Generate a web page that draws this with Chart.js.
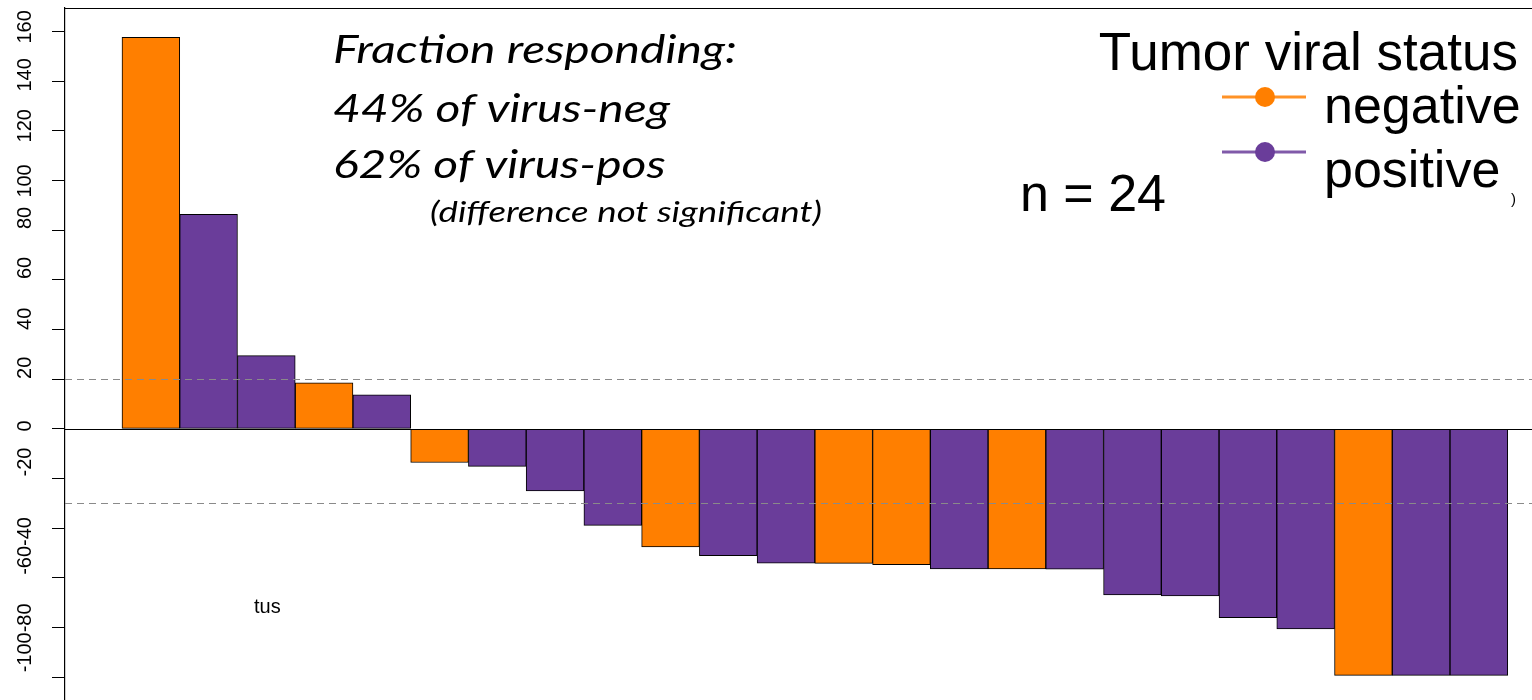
<!DOCTYPE html>
<html>
<head>
<meta charset="utf-8">
<script src="https://cdn.jsdelivr.net/npm/chart.js@4.4.1/dist/chart.umd.min.js"></script>
<style>
  html, body { margin: 0; padding: 0; background: #fff; }
  #wrap { width: 1532px; height: 700px; }
</style>
</head>
<body>
<div id="wrap"><canvas id="waterfall" width="1532" height="700"></canvas></div>
<script>
// patient order along the waterfall
const patients = [1, 2, 3, 4, 5, 6, 7, 8, 9, 10, 11, 12, 13, 14, 15, 16, 17, 18, 19, 20, 21, 22, 23, 24];
// best % change in tumour size
const changes = [157.6, 86.4, 29.5, 18.5, 13.7, -13.5, -15.1, -25, -38.8, -47.5, -51, -54,
  -54.1, -54.6, -56.3, -56.3, -56.4, -66.8, -67.2, -76, -80.5, -99.2, -99.2, -99.2];
const status = ['neg', 'pos', 'pos', 'neg', 'pos', 'neg', 'pos', 'pos', 'pos', 'neg', 'pos', 'pos',
  'neg', 'neg', 'pos', 'neg', 'pos', 'pos', 'pos', 'pos', 'pos', 'neg', 'pos', 'pos'];
const statusColors = { neg: '#FF7F00', pos: '#6A3D9A' };
const legendKeys = ['neg', 'pos'];
const legendLabels = ['negative', 'positive'];
const legendTitle = 'Tumor viral status';

const yTicks = [160, 140, 120, 100, 80, 60, 40, 20, 0, -20, -40, -60, -80, -100];
// label text and the value it sits at (lower ones overlap in the original)
const yLabelText = ['160', '140', '120', '100', '80', '60', '40', '20', '0', '-20', '-60-40', '-100-80'];
const yLabelAt = [161.8, 142.5, 122, 99.8, 84.9, 64.8, 44.3, 24.6, 1.2, -13.3, -47.1, -84.1];

const cutoffs = [20, -30];
const noteLines = ['Fraction responding:', '44% of virus-neg', '62% of virus-pos'];
const noteSub = '(difference not significant)';
const countText = 'n = 24';

// draw text stretched sideways so it spans a given width
function stretchText(ctx, text, x, y, sx) {
  ctx.save();
  ctx.translate(x, y);
  ctx.scale(sx, 1);
  ctx.fillText(text, 0, 0);
  ctx.restore();
}

const decor = {
  id: 'decor',
  afterDatasetsDraw(chart) {
    const ctx = chart.ctx;
    const area = chart.chartArea;
    const y = chart.scales.y;
    ctx.save();

    // reference lines
    ctx.strokeStyle = '#8a8a8a';
    ctx.lineWidth = 1.2;
    ctx.setLineDash([7, 5]);
    cutoffs.forEach(c => {
      const py = Math.round(y.getPixelForValue(c)) + 0.5;
      ctx.beginPath();
      ctx.moveTo(area.left, py);
      ctx.lineTo(area.right, py);
      ctx.stroke();
    });
    ctx.setLineDash([]);

    // zero line and top frame
    ctx.strokeStyle = '#000';
    ctx.lineWidth = 1.2;
    const z = Math.round(y.getPixelForValue(0)) + 0.5;
    ctx.beginPath();
    ctx.moveTo(area.left, z);
    ctx.lineTo(area.right, z);
    ctx.moveTo(area.left, area.top + 0.5);
    ctx.lineTo(area.right, area.top + 0.5);
    ctx.stroke();

    // rotated y labels
    ctx.fillStyle = '#000';
    ctx.font = '20px "Liberation Sans", Arial, sans-serif';
    ctx.textAlign = 'center';
    ctx.textBaseline = 'middle';
    yLabelText.forEach((t, i) => {
      ctx.save();
      ctx.translate(25, y.getPixelForValue(yLabelAt[i]));
      ctx.rotate(-Math.PI / 2);
      ctx.fillText(t, 0, 0);
      ctx.restore();
    });

    // annotation text
    const fam = 'Lato, "Open Sans", sans-serif';
    ctx.textAlign = 'left';
    ctx.textBaseline = 'alphabetic';
    ctx.font = 'italic 39px ' + fam;
    const sx = 404 / ctx.measureText(noteLines[0]).width;
    [63, 122, 178].forEach((by, i) => stretchText(ctx, noteLines[i], 333, by, sx));
    ctx.font = 'italic 29px ' + fam;
    const sx2 = 392 / ctx.measureText(noteSub).width;
    stretchText(ctx, noteSub, 430, 222, sx2);

    // legend
    const arial = '"Liberation Sans", Arial, sans-serif';
    ctx.font = '53px ' + arial;
    ctx.textAlign = 'right';
    ctx.fillText(legendTitle, 1518, 70);
    ctx.textAlign = 'left';
    ctx.font = '52px ' + arial;
    [[97, 123], [152, 187]].forEach(([ly, by], i) => {
      const col = statusColors[legendKeys[i]];
      ctx.strokeStyle = col;
      ctx.globalAlpha = 0.85;
      ctx.lineWidth = 3;
      ctx.beginPath();
      ctx.moveTo(1222, ly);
      ctx.lineTo(1306, ly);
      ctx.stroke();
      ctx.globalAlpha = 1;
      ctx.fillStyle = col;
      ctx.beginPath();
      ctx.arc(1265, ly, 10, 0, Math.PI * 2);
      ctx.fill();
      ctx.fillStyle = '#000';
      ctx.fillText(legendLabels[i], 1324, by);
    });
    ctx.font = '15px ' + arial;
    ctx.fillText(')', 1511, 204);

    ctx.font = '52px ' + arial;
    ctx.fillText(countText, 1020, 211);

    ctx.font = '20px ' + arial;
    ctx.fillText('tus', 254, 613);

    ctx.restore();
  }
};

new Chart(document.getElementById('waterfall'), {
  type: 'bar',
  data: {
    datasets: [{
      data: changes.map((v, i) => ({ x: patients[i], y: v })),
      backgroundColor: status.map(s => statusColors[s]),
      borderColor: '#000',
      borderWidth: 1,
      borderSkipped: false,
      barPercentage: 1,
      categoryPercentage: 1
    }]
  },
  options: {
    responsive: false,
    animation: false,
    devicePixelRatio: 1,
    layout: { padding: { top: 8, left: 0, right: 0, bottom: 0 } },
    plugins: { legend: { display: false }, tooltip: { enabled: false } },
    scales: {
      x: { type: 'linear', offset: false, min: -0.487, max: 24.92, display: false },
      y: {
        min: -109.1,
        max: 169.4,
        afterBuildTicks(scale) { scale.ticks = yTicks.map(v => ({ value: v })); },
        afterFit(scale) { scale.width = 65; },
        ticks: { display: false },
        grid: { drawOnChartArea: false, drawTicks: true, tickLength: 13, color: '#000', lineWidth: 1 },
        border: { display: true, color: '#000', width: 1.2 }
      }
    }
  },
  plugins: [decor]
});
</script>
</body>
</html>
